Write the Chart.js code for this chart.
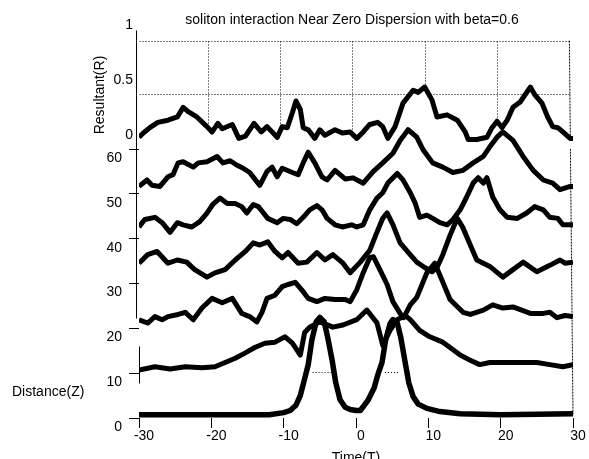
<!DOCTYPE html>
<html>
<head>
<meta charset="utf-8">
<script src="https://cdn.jsdelivr.net/npm/chart.js@4.4.1/dist/chart.umd.min.js"></script>
<style>
  html, body { margin: 0; padding: 0; background: #fff; overflow: hidden; }
  canvas { display: block; }
</style>
</head>
<body>
<canvas id="myChart" width="589" height="470"></canvas>
<script>
const zLevels = [0, 10, 20, 30, 40, 50, 60];
const zTicks = [0, 10, 20, 30, 40, 50, 60];
const rTicks = [0, 0.5, 1];
const tTicks = [-30, -20, -10, 0, 10, 20, 30];

/* [time T, resultant R] */
const z0 = [[-30,0.03],[-20,0.03],[-12,0.03],[-10,0.05],[-9.1,0.07],[-8.3,0.12],[-7.7,0.21],[-7.2,0.34],[-6.6,0.50],[-6.1,0.73],[-5.5,0.90],[-5.0,0.94],[-4.4,0.90],[-3.9,0.75],[-3.3,0.54],[-2.8,0.33],[-2.2,0.17],[-1.5,0.10],[-0.8,0.08],[0,0.07],[0.6,0.07],[1.7,0.17],[2.5,0.28],[3.0,0.40],[3.6,0.52],[4.1,0.73],[4.7,0.88],[5.1,0.92],[5.7,0.89],[6.2,0.75],[6.8,0.52],[7.3,0.33],[7.9,0.20],[8.6,0.13],[9.8,0.09],[11.6,0.06],[14.4,0.04],[20,0.03],[30,0.04]];
const z10 = [[-30,0.03],[-27.8,0.06],[-25.7,0.04],[-23.6,0.06],[-21.3,0.05],[-19.5,0.06],[-18.1,0.10],[-16.7,0.14],[-15.3,0.19],[-14,0.24],[-12.6,0.28],[-11.2,0.29],[-9.8,0.34],[-8.8,0.28],[-7.7,0.17],[-7.1,0.38],[-6.4,0.43],[-5,0.48],[-3.2,0.43],[-1.8,0.45],[0.1,0.50],[1.5,0.59],[2.9,0.47],[3.7,0.26],[4.7,0.40],[5.7,0.50],[6.8,0.54],[7.5,0.50],[8.8,0.40],[10.2,0.34],[12,0.29],[13,0.24],[14.4,0.17],[15.8,0.12],[17.1,0.08],[18.5,0.10],[19.5,0.10],[21.3,0.10],[23.1,0.10],[25,0.10],[26.8,0.08],[28.6,0.06],[30,0.08]];
const z20 = [[-30,0.08],[-28.8,0.05],[-27.8,0.11],[-26.8,0.08],[-26,0.11],[-24.6,0.13],[-23.6,0.15],[-22.5,0.08],[-21.3,0.19],[-19.9,0.28],[-18.5,0.24],[-17.1,0.28],[-15.8,0.14],[-14.7,0.11],[-13.7,0.06],[-13,0.15],[-12.3,0.28],[-11.2,0.31],[-10.2,0.39],[-9.4,0.41],[-8.4,0.43],[-7.5,0.36],[-6.6,0.28],[-5.4,0.25],[-4.3,0.28],[-2.9,0.27],[-1.5,0.27],[-0.8,0.25],[0.1,0.36],[1,0.52],[1.9,0.66],[2.4,0.67],[3.3,0.55],[4.3,0.41],[5.1,0.25],[6.1,0.14],[6.6,0.10],[7.5,0.22],[8.4,0.29],[9.8,0.52],[10.9,0.61],[13,0.27],[14.8,0.15],[15.8,0.13],[17.6,0.17],[18.9,0.22],[20.3,0.19],[21.7,0.20],[24.1,0.14],[25.9,0.14],[26.8,0.15],[27.8,0.10],[28.9,0.12],[30,0.11]];
const z30 = [[-30,0.19],[-28.8,0.27],[-27.5,0.30],[-26,0.19],[-24.7,0.22],[-23.4,0.20],[-22.3,0.13],[-20.6,0.06],[-19.5,0.10],[-18.1,0.13],[-16.7,0.22],[-15.3,0.30],[-14.2,0.38],[-13.3,0.36],[-12.2,0.39],[-11.2,0.30],[-10.2,0.24],[-9.4,0.29],[-8,0.19],[-6.8,0.20],[-5.4,0.29],[-4.3,0.22],[-3.2,0.27],[-1.8,0.19],[-0.8,0.10],[0.6,0.20],[1.9,0.31],[2.9,0.48],[3.7,0.61],[4.3,0.66],[5.1,0.55],[6.1,0.38],[7.1,0.30],[8.4,0.20],[9.5,0.15],[10.5,0.11],[11.2,0.15],[12,0.27],[13,0.45],[14,0.61],[14.8,0.52],[15.8,0.36],[16.7,0.22],[18.5,0.16],[20.3,0.06],[21.7,0.13],[23.1,0.20],[25,0.11],[26.8,0.17],[28.2,0.22],[28.9,0.19],[30,0.20]];
const z40 = [[-30,0.11],[-29.2,0.18],[-27.8,0.20],[-26.8,0.15],[-25.7,0.06],[-24.7,0.15],[-23.9,0.13],[-22.7,0.11],[-21.6,0.16],[-20.6,0.24],[-19.8,0.32],[-18.8,0.38],[-17.8,0.33],[-16.7,0.33],[-15.8,0.30],[-15.1,0.24],[-14.2,0.32],[-13.5,0.30],[-12.9,0.25],[-12.2,0.19],[-10.9,0.15],[-10.1,0.19],[-9.1,0.18],[-8.2,0.14],[-7.3,0.20],[-6.4,0.27],[-5.4,0.31],[-4.7,0.27],[-4,0.19],[-2.9,0.13],[-1.9,0.11],[-0.6,0.13],[0.1,0.11],[1,0.13],[1.9,0.27],[2.9,0.38],[3.7,0.43],[4.4,0.52],[5.7,0.61],[6.5,0.55],[7.5,0.43],[8.2,0.33],[8.8,0.20],[9.8,0.22],[10.6,0.19],[11.6,0.15],[12.6,0.13],[13.4,0.18],[14.4,0.27],[15.3,0.39],[16.2,0.52],[16.9,0.57],[17.6,0.52],[18.1,0.57],[18.9,0.39],[19.9,0.27],[20.9,0.20],[22.3,0.19],[23.6,0.24],[24.7,0.30],[25.9,0.27],[26.8,0.20],[27.9,0.19],[28.6,0.13],[30,0.13]];
const z50 = [[-30,0.07],[-28.9,0.13],[-28.2,0.08],[-27.1,0.07],[-26,0.16],[-25.3,0.18],[-24.6,0.29],[-23.9,0.30],[-22.5,0.25],[-21.8,0.29],[-20.6,0.30],[-19.2,0.35],[-18.4,0.29],[-17.4,0.31],[-16.5,0.27],[-15.6,0.24],[-14.7,0.20],[-13.3,0.08],[-12.3,0.21],[-11.6,0.25],[-10.9,0.16],[-10.2,0.24],[-8.8,0.20],[-8,0.18],[-7.3,0.29],[-6.6,0.39],[-5.7,0.29],[-4.7,0.16],[-4,0.13],[-2.9,0.22],[-2.2,0.18],[-1.5,0.14],[-0.4,0.15],[1,0.10],[2.4,0.21],[3.7,0.29],[5.1,0.38],[6.1,0.50],[7.2,0.60],[8.4,0.53],[9.3,0.41],[10.6,0.29],[12,0.25],[13.4,0.20],[14.8,0.22],[16.2,0.29],[17.6,0.35],[18.5,0.44],[19.5,0.53],[20.3,0.58],[21.7,0.50],[23.1,0.35],[24.5,0.22],[25.9,0.13],[27.2,0.10],[28.2,0.04],[29.6,0.07],[30,0.07]];
const z60 = [[-30,0.11],[-29.4,0.15],[-28.5,0.20],[-27.4,0.25],[-26,0.27],[-24.7,0.30],[-23.9,0.39],[-23.2,0.35],[-22,0.30],[-20.6,0.21],[-19.9,0.16],[-19.1,0.24],[-18.5,0.19],[-17.1,0.23],[-16.2,0.10],[-15.3,0.12],[-14.1,0.24],[-13.1,0.16],[-12.3,0.21],[-10.9,0.11],[-10.2,0.21],[-9.5,0.20],[-8.8,0.34],[-8.3,0.45],[-7.7,0.37],[-7.3,0.20],[-6.6,0.18],[-5.7,0.10],[-5,0.18],[-4.3,0.13],[-2.9,0.18],[-1.9,0.15],[-0.8,0.16],[0.1,0.10],[1,0.16],[1.9,0.23],[3,0.25],[3.7,0.21],[4.4,0.10],[5.4,0.21],[6.5,0.43],[7.9,0.55],[8.6,0.53],[9.5,0.58],[10.5,0.46],[11.2,0.30],[12.6,0.32],[14,0.27],[15.1,0.16],[15.5,0.09],[16.7,0.09],[18.1,0.11],[18.8,0.20],[19.5,0.26],[20.2,0.20],[20.9,0.27],[21.7,0.39],[22.7,0.44],[23.4,0.51],[24.1,0.58],[24.7,0.51],[25.7,0.43],[26.5,0.30],[27.2,0.21],[27.9,0.20],[28.6,0.16],[29.6,0.10],[30,0.10]];
const curves = [z0, z10, z20, z30, z40, z50, z60];

// projection of the 3-D view: how many Z units one unit of R climbs on screen
const R_RISE = 23.87;
// resultant axis drawn on the front left corner
const R_AXIS_BASE = 63.2;
const R_AXIS_RISE = 24.54;
// back wall grid (sits a little behind and to the left)
const BACK_BASE = 60.5;
const BACK_RISE = 23.7;
const BACK_SHIFT = -0.5;

const FONT = '"Liberation Sans", Arial, Helvetica, sans-serif';
Chart.defaults.font.family = FONT;
Chart.defaults.font.size = 14;
Chart.defaults.color = "#000";

const frame = {
  id: "frame",
  beforeDatasetsDraw(chart) {
    const { ctx, chartArea, scales: { x, y } } = chart;
    const px = (t) => Math.round(x.getPixelForValue(t)) + 0.5;
    const py = (v) => Math.round(y.getPixelForValue(v)) + 0.5;
    ctx.save();
    ctx.strokeStyle = "#000";
    ctx.lineWidth = 1;

    // dotted back-wall grid
    ctx.setLineDash([1, 2]);
    ctx.beginPath();
    [0.5, 1].forEach((r) => {
      const yy = py(BACK_BASE + r * BACK_RISE);
      ctx.moveTo(px(-30), yy);
      ctx.lineTo(px(30 + BACK_SHIFT), yy);
    });
    tTicks.slice(1, -1).forEach((t) => {
      const xx = px(t + BACK_SHIFT);
      ctx.moveTo(xx, py(BACK_BASE + BACK_RISE));
      ctx.lineTo(xx, py(BACK_BASE));
    });
    ctx.stroke();

    // right edge of the box
    ctx.setLineDash([2, 1]);
    ctx.beginPath();
    ctx.moveTo(x.getPixelForValue(30 + BACK_SHIFT), y.getPixelForValue(BACK_BASE + BACK_RISE));
    ctx.lineTo(x.getPixelForValue(30), y.getPixelForValue(0.7));
    ctx.stroke();

    // solid axis lines on the left
    ctx.setLineDash([]);
    ctx.beginPath();
    ctx.moveTo(chartArea.left - 2.5, py(86.6));
    ctx.lineTo(chartArea.left - 2.5, py(22.3));
    ctx.moveTo(chartArea.left + 0.5, py(16.1));
    ctx.lineTo(chartArea.left + 0.5, py(7.8));
    ctx.stroke();
    ctx.restore();
  },
  afterDatasetsDraw(chart) {
    const { ctx, scales: { x, y } } = chart;
    const yy = Math.round(y.getPixelForValue(10.3)) + 0.5;
    ctx.save();
    ctx.strokeStyle = "#000";
    ctx.lineWidth = 1;
    ctx.setLineDash([1, 2]);
    ctx.beginPath();
    [[-6.0, -3.3], [4.0, 6.0]].forEach(([a, b]) => {
      ctx.moveTo(x.getPixelForValue(a), yy);
      ctx.lineTo(x.getPixelForValue(b), yy);
    });
    ctx.stroke();
    ctx.restore();
  },
  afterDraw(chart) {
    const { ctx, chartArea, scales: { y } } = chart;
    ctx.save();
    ctx.fillStyle = "#000";
    ctx.font = "14px " + FONT;
    ctx.textBaseline = "middle";

    // resultant axis labels
    ctx.textAlign = "right";
    rTicks.forEach((r) => {
      ctx.fillText(String(r), chartArea.left - 6,
        y.getPixelForValue(R_AXIS_BASE + r * R_AXIS_RISE));
    });

    ctx.textAlign = "center";
    ctx.fillText("soliton interaction Near Zero Dispersion with beta=0.6",
      (chartArea.left + chartArea.right) / 2 - 4, 20);
    ctx.textAlign = "left";
    ctx.fillText("Distance(Z)", 12, 392);
    ctx.translate(100, 95);
    ctx.rotate(-Math.PI / 2);
    ctx.textAlign = "center";
    ctx.fillText("Resultant(R)", 0, 0);
    ctx.restore();
  },
};

const ctx = document.getElementById("myChart");
new Chart(ctx, {
  type: "line",
  data: {
    datasets: zLevels.map((z, i) => ({
      label: "Z=" + z,
      data: curves[i].map(([t, r]) => ({ x: t, y: z + r * R_RISE })),
      borderColor: "#000",
      borderWidth: z === 0 ? 5.5 : 5,
      borderJoinStyle: "round",
      pointRadius: 0,
      tension: 0,
      fill: z === 60 ? { value: z } : false,
      backgroundColor: "#fff",
    })),
  },
  options: {
    responsive: false,
    animation: false,
    devicePixelRatio: 1,
    layout: { padding: { left: 0, right: 16, top: 20, bottom: 0 } },
    plugins: {
      legend: { display: false },
      tooltip: { enabled: false },
    },
    scales: {
      x: {
        type: "linear",
        position: "bottom",
        min: -30,
        max: 30,
        afterBuildTicks: (s) => { s.ticks = tTicks.map((v) => ({ value: v })); },
        afterFit: (s) => { s.height = 52; },
        ticks: { autoSkip: false, maxRotation: 0, padding: 0, labelOffset: 5 },
        grid: { drawOnChartArea: false, drawTicks: true, tickLength: 10, color: "#000" },
        border: { display: false },
        title: { display: true, text: "Time(T)", padding: { top: 0, bottom: 3 } },
      },
      y: {
        type: "linear",
        position: "left",
        min: 0,
        max: 88.8,
        afterBuildTicks: (s) => { s.ticks = zTicks.map((v) => ({ value: v })); },
        afterFit: (s) => { s.width = 139; },
        ticks: { padding: 7, labelOffset: 9 },
        grid: { drawOnChartArea: false, drawTicks: true, tickLength: 10, color: "#000" },
        border: { display: false },
      },
    },
  },
  plugins: [frame],
});
</script>
</body>
</html>
